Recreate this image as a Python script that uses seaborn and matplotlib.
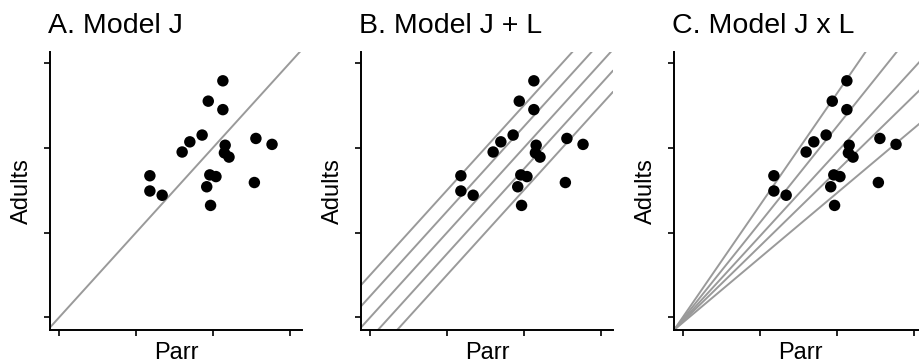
import matplotlib
matplotlib.use("Agg")
import matplotlib.pyplot as plt
import seaborn as sns
import numpy as np
import pandas as pd

# Data
parr = [2.13, 1.94, 2.13, 1.86, 1.70, 1.60, 2.16, 2.15, 2.21, 2.56, 2.77,
        1.18, 1.18, 1.34, 1.96, 2.04, 1.92, 1.97, 2.54]
adults = [2.79, 2.55, 2.45, 2.15, 2.07, 1.95, 2.03, 1.94, 1.89, 2.11, 2.04,
          1.67, 1.49, 1.44, 1.68, 1.66, 1.54, 1.32, 1.59]

titles = ["A. Model J", "B. Model J + L", "C. Model J x L"]
ticks = [0, 1, 2, 3]
xlim = (-0.12, 3.16)
ylim = (-0.15, 3.13)

# Model lines
a_intercepts = [0.0]                                  # panel A: y = x
b_intercepts = [0.5, 0.25, 0.0, -0.25, -0.5]          # panel B: parallel
c_slopes = [1.316, 1.132, 0.990, 0.885, 0.762]        # panel C: fan from corner

sns.set_style("ticks")
plt.rcParams['font.family'] = ['Liberation Sans', 'DejaVu Sans']

W, H = 919, 362
fig = plt.figure(figsize=(W / 100, H / 100), dpi=100)

lefts_px = [50, 361, 674]
ax_w, ax_h = 252, 278
bottom_px = 330

df = pd.DataFrame({"Parr": parr, "Adults": adults})
line_color = "#9a9a9a"

for i, left in enumerate(lefts_px):
    ax = fig.add_axes([left / W, (H - bottom_px) / H, ax_w / W, ax_h / H])
    xs = np.array([xlim[0], xlim[1]])
    if i == 0:
        for b in a_intercepts:
            sns.lineplot(x=xs, y=xs + b, ax=ax, color=line_color, lw=1.4)
    elif i == 1:
        for b in b_intercepts:
            sns.lineplot(x=xs, y=xs + b, ax=ax, color=line_color, lw=1.4)
    else:
        for k in c_slopes:
            sns.lineplot(x=xs, y=ylim[0] + k * (xs - xlim[0]), ax=ax,
                         color=line_color, lw=1.4)
    sns.scatterplot(data=df, x="Parr", y="Adults", ax=ax, color="black",
                    s=68, edgecolor="none", linewidth=0, zorder=3)
    ax.set_xlim(*xlim)
    ax.set_ylim(*ylim)
    ax.set_xticks(ticks)
    ax.set_yticks(ticks)
    ax.set_xticklabels([])
    ax.set_yticklabels([])
    ax.tick_params(length=4, width=1.2, color="black", direction="out")
    for s in ["top", "right"]:
        ax.spines[s].set_visible(False)
    for s in ["left", "bottom"]:
        ax.spines[s].set_linewidth(1.4)
        ax.spines[s].set_color("black")
    ax.set_xlabel("Parr", fontsize=17, labelpad=1, color="black")
    ax.set_ylabel("Adults", fontsize=17, labelpad=5, color="black")
    fig.text((left - 2) / W, 1 - 33 / H, titles[i], fontsize=20.5,
             ha="left", va="baseline", color="black")

fig.savefig("out.png", dpi=100)
